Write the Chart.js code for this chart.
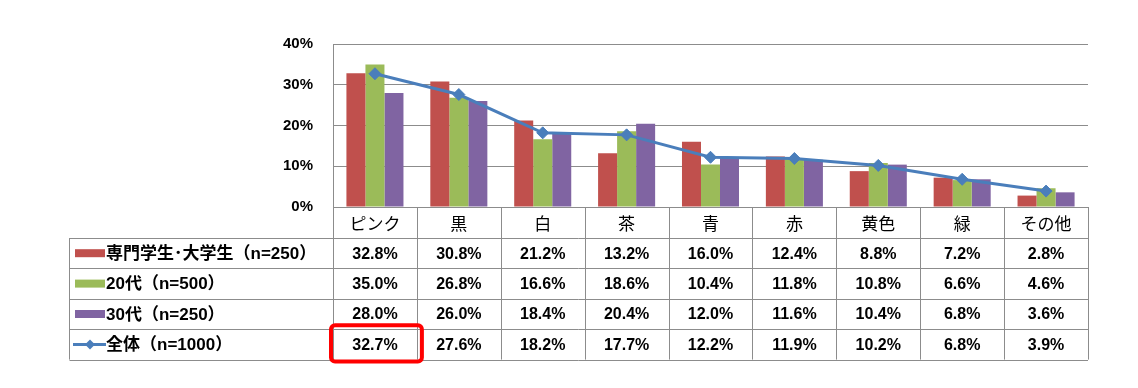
<!DOCTYPE html>
<html>
<head>
<meta charset="utf-8">
<script src="https://cdn.jsdelivr.net/npm/chart.js@4"></script>
<style>
  html, body { margin: 0; padding: 0; background: #fff; }
  #wrap { width: 1138px; height: 388px; }
</style>
</head>
<body>
<div id="wrap"><canvas id="myChart" width="1138" height="388"></canvas></div>
<script>
// 色カテゴリ
const categories = ['ピンク', '黒', '白', '茶', '青', '赤', '黄色', '緑', 'その他'];

// 系列名
const seriesNames = ['専門学生･大学生（n=250）', '20代（n=500）', '30代（n=250）', '全体（n=1000）'];

// 各系列の値 (%)
const studentValues = [32.8, 30.8, 21.2, 13.2, 16.0, 12.4, 8.8, 7.2, 2.8];
const twentiesValues = [35.0, 26.8, 16.6, 18.6, 10.4, 11.8, 10.8, 6.6, 4.6];
const thirtiesValues = [28.0, 26.0, 18.4, 20.4, 12.0, 11.6, 10.4, 6.8, 3.6];
const totalValues = [32.7, 27.6, 18.2, 17.7, 12.2, 11.9, 10.2, 6.8, 3.9];

// 目盛り
const yTicks = [0, 10, 20, 30, 40];

const barColors = ['#C0504D', '#9BBB59', '#8064A2'];
const lineColor = '#4A7EBB';
const gridColor = '#8C8C8C';
const valueFont = 'bold 16px "Liberation Sans", Arial, "Noto Sans CJK JP", sans-serif';
const labelFont = '17px "Noto Sans CJK JP", sans-serif';
const legendFont = 'bold 17px "Liberation Sans", Arial, "Noto Sans CJK JP", sans-serif';

// 表の描画 (グラフ下部)
const tablePlugin = {
    id: 'dataTable',
    afterDraw(chart) {
        const ctx = chart.ctx;
        const x = chart.scales.x;
        const area = chart.chartArea;
        const rowH = 30.4;
        const top = area.bottom;
        const headerBottom = top + 31;
        const tableLeft = 69.5;
        const rows = [studentValues, twentiesValues, thirtiesValues, totalValues];
        const bottom = headerBottom + rowH * rows.length;
        const colW = (area.right - area.left) / categories.length;

        ctx.save();
        ctx.strokeStyle = gridColor;
        ctx.lineWidth = 1;

        // 横線
        ctx.beginPath();
        for (let r = 0; r <= rows.length; r++) {
            const y = Math.round(headerBottom + rowH * r) + 0.5;
            ctx.moveTo(tableLeft, y);
            ctx.lineTo(area.right, y);
        }
        // 縦線
        for (let c = 0; c <= categories.length; c++) {
            const xx = Math.round(area.left + colW * c) + 0.5;
            ctx.moveTo(xx, top);
            ctx.lineTo(xx, bottom);
        }
        ctx.moveTo(tableLeft, headerBottom);
        ctx.lineTo(tableLeft, bottom);
        ctx.stroke();

        // カテゴリ名
        ctx.fillStyle = '#000';
        ctx.textAlign = 'center';
        ctx.textBaseline = 'middle';
        ctx.font = labelFont;
        categories.forEach((c, i) => {
            ctx.fillText(c, x.getPixelForValue(i), (top + headerBottom) / 2 + 1);
        });

        // 値
        ctx.font = valueFont;
        rows.forEach((vals, r) => {
            const cy = headerBottom + rowH * r + rowH / 2 + 1;
            vals.forEach((v, i) => {
                ctx.fillText(v.toFixed(1) + '%', x.getPixelForValue(i), cy);
            });
        });

        // 凡例
        ctx.textAlign = 'left';
        ctx.font = legendFont;
        seriesNames.forEach((name, r) => {
            const cy = headerBottom + rowH * r + rowH / 2;
            if (r < 3) {
                ctx.fillStyle = barColors[r];
                ctx.fillRect(75, cy - 4, 30, 8);
            } else {
                ctx.strokeStyle = lineColor;
                ctx.lineWidth = 3;
                ctx.beginPath();
                ctx.moveTo(73, cy);
                ctx.lineTo(106, cy);
                ctx.stroke();
                ctx.fillStyle = lineColor;
                ctx.beginPath();
                ctx.moveTo(90, cy - 5);
                ctx.lineTo(95, cy);
                ctx.lineTo(90, cy + 5);
                ctx.lineTo(85, cy);
                ctx.closePath();
                ctx.fill();
            }
            ctx.fillStyle = '#000';
            ctx.fillText(name, 106, cy + 1);
        });

        // 赤枠 (全体・ピンク)
        const bx = area.left - 2;
        const by = headerBottom + rowH * 3 - 4;
        const bw = colW + 7;
        const bh = rowH + 6;
        ctx.strokeStyle = '#FF0000';
        ctx.lineWidth = 4;
        ctx.beginPath();
        ctx.roundRect(bx, by, bw, bh, 4);
        ctx.stroke();
        ctx.restore();
    }
};

var myChart = new Chart(document.getElementById('myChart').getContext('2d'), {
    type: 'bar',
    data: {
        labels: categories,
        datasets: [
            {
                type: 'line',
                label: seriesNames[3],
                data: totalValues,
                borderColor: lineColor,
                backgroundColor: lineColor,
                borderWidth: 3,
                pointStyle: 'rectRot',
                pointRadius: 6,
                pointBorderWidth: 1,
                tension: 0,
                order: 0
            },
            { label: seriesNames[0], data: studentValues, backgroundColor: barColors[0], order: 1 },
            { label: seriesNames[1], data: twentiesValues, backgroundColor: barColors[1], order: 1 },
            { label: seriesNames[2], data: thirtiesValues, backgroundColor: barColors[2], order: 1 }
        ]
    },
    options: {
        responsive: false,
        animation: false,
        layout: { padding: { left: 0, right: 50, top: 44, bottom: 181 } },
        datasets: { bar: { categoryPercentage: 0.68, barPercentage: 1.0 } },
        plugins: { legend: { display: false }, tooltip: { enabled: false } },
        scales: {
            x: { display: false },
            y: {
                min: 0,
                max: 40,
                afterFit(scale) { scale.width = 333; },
                afterBuildTicks(scale) { scale.ticks = yTicks.map(v => ({ value: v })); },
                grid: { color: gridColor, drawTicks: false },
                border: { display: true, color: gridColor },
                ticks: {
                    padding: 20,
                    color: '#000',
                    font: { family: '"Liberation Sans", Arial, sans-serif', size: 15, weight: 'bold' },
                    callback: v => v + '%'
                }
            }
        }
    },
    plugins: [tablePlugin]
});
</script>
</body>
</html>
